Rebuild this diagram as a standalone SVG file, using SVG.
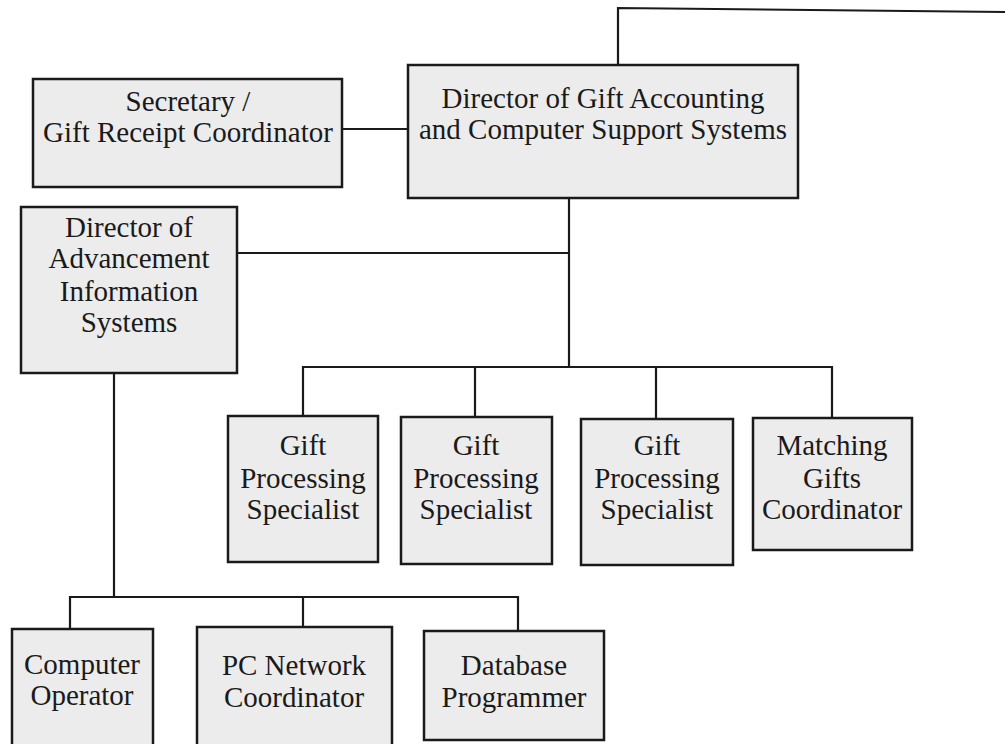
<svg xmlns="http://www.w3.org/2000/svg" width="1008" height="744" viewBox="0 0 1008 744">
<style>
.box{fill:#ececec;stroke:#1a1a1a;stroke-width:2.5}
.t{font-family:"Liberation Serif","Times New Roman",serif;font-size:29px;fill:#1a1a1a;text-anchor:middle}
.c{fill:none;stroke:#1a1a1a;stroke-width:2.2}
</style>
<rect width="1008" height="744" fill="#ffffff"/>
<g id="connectors">
<path class="c" d="M618 65 V8 L1005 12"/>
<path class="c" d="M342 129 H408"/>
<path class="c" d="M569 198 V367"/>
<path class="c" d="M237 253 H569"/>
<path class="c" d="M303 416 V367 H832 V418"/>
<path class="c" d="M475 367 V417"/>
<path class="c" d="M656 367 V419"/>
<path class="c" d="M114 373 V597"/>
<path class="c" d="M70 629 V597 H518 V631"/>
<path class="c" d="M303 597 V627"/>
</g>
<g id="secretary">
<rect class="box" x="33" y="79" width="309" height="108"/>
<text class="t" x="188" y="111">Secretary /</text>
<text class="t" x="188" y="142">Gift Receipt Coordinator</text>
</g>
<g id="director-gift">
<rect class="box" x="408" y="65" width="390" height="133"/>
<text class="t" x="603" y="108">Director of Gift Accounting</text>
<text class="t" x="603" y="139">and Computer Support Systems</text>
</g>
<g id="director-advancement">
<rect class="box" x="21" y="207" width="216" height="166"/>
<text class="t" x="129" y="237">Director of</text>
<text class="t" x="129" y="268">Advancement</text>
<text class="t" x="129" y="301">Information</text>
<text class="t" x="129" y="332">Systems</text>
</g>
<g id="gift1">
<rect class="box" x="228" y="416" width="150" height="146"/>
<text class="t" x="303" y="455">Gift</text>
<text class="t" x="303" y="488">Processing</text>
<text class="t" x="303" y="519">Specialist</text>
</g>
<g id="gift2">
<rect class="box" x="401" y="417" width="151" height="147"/>
<text class="t" x="476" y="455">Gift</text>
<text class="t" x="476" y="488">Processing</text>
<text class="t" x="476" y="519">Specialist</text>
</g>
<g id="gift3">
<rect class="box" x="581" y="419" width="152" height="146"/>
<text class="t" x="657" y="455">Gift</text>
<text class="t" x="657" y="488">Processing</text>
<text class="t" x="657" y="519">Specialist</text>
</g>
<g id="matching">
<rect class="box" x="753" y="418" width="159" height="132"/>
<text class="t" x="832" y="455">Matching</text>
<text class="t" x="832" y="488">Gifts</text>
<text class="t" x="832" y="519">Coordinator</text>
</g>
<g id="computer-operator">
<rect class="box" x="12" y="629" width="141" height="120"/>
<text class="t" x="82" y="674">Computer</text>
<text class="t" x="82" y="705">Operator</text>
</g>
<g id="pc-network">
<rect class="box" x="197" y="627" width="195" height="122"/>
<text class="t" x="294" y="675">PC Network</text>
<text class="t" x="294" y="707">Coordinator</text>
</g>
<g id="database">
<rect class="box" x="424" y="631" width="180" height="109"/>
<text class="t" x="514" y="675">Database</text>
<text class="t" x="514" y="707">Programmer</text>
</g>
</svg>
